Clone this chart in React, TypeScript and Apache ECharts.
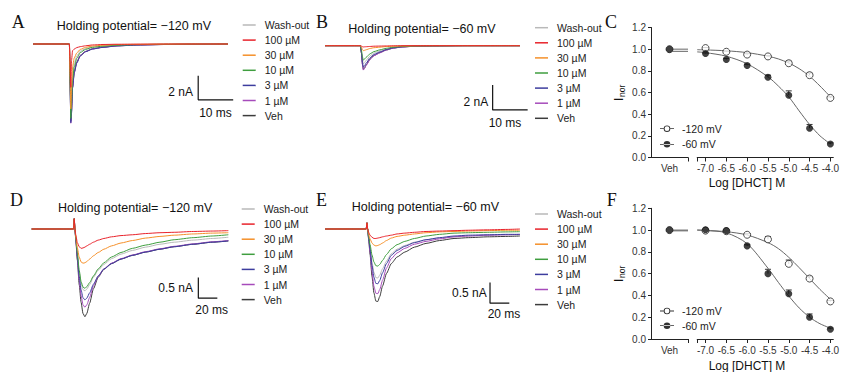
import React, { useEffect, useRef } from "react";
import * as echarts from "echarts";

// ---------------- DATA ----------------
const conditions = ["Wash-out", "100 µM", "30 µM", "10 µM", "3 µM", "1 µM", "Veh"];

// Panel A (-120 mV, fast sweep), time in ms, current in nA
const timeA = [0, 10.4, 10.6, 10.8, 11.0, 11.3, 11.8, 12.5, 13.5, 15, 17, 20, 24, 30, 38, 46, 55.7];
const washA = [0, 0, -3.0, -6.0, -4.6, -2.6, -1.6, -1.0, -0.6, -0.38, -0.24, -0.15, -0.08, -0.04, -0.02, -0.01, 0];
const vehA = [0, 0, -3.3, -6.4, -5.6, -3.6, -2.3, -1.5, -0.95, -0.62, -0.4, -0.26, -0.15, -0.08, -0.04, -0.02, 0];
const oneA = [0, 0, -3.4, -6.6, -5.7, -3.6, -2.35, -1.55, -0.98, -0.63, -0.41, -0.27, -0.15, -0.08, -0.04, -0.02, 0];
const threeA = [0, 0, -3.4, -6.55, -5.8, -3.7, -2.4, -1.6, -1.0, -0.65, -0.42, -0.28, -0.16, -0.08, -0.04, -0.02, 0];
const tenA = [0, 0, -3.2, -6.2, -5.0, -3.0, -1.9, -1.2, -0.72, -0.45, -0.28, -0.18, -0.1, -0.05, -0.02, -0.01, 0];
const thirtyA = [0, 0, -2.8, -5.4, -3.8, -1.9, -1.15, -0.75, -0.45, -0.28, -0.17, -0.1, -0.05, -0.03, -0.01, 0, 0];
const hundredA = [0, 0, -1.5, -3.6, -1.4, -0.56, -0.42, -0.3, -0.22, -0.15, -0.08, -0.04, -0.02, -0.01, 0, 0, 0];

// Panel B (-60 mV, fast sweep)
const timeB = [0, 10.1, 10.4, 10.7, 10.95, 11.3, 11.8, 12.9, 14, 15.7, 17.5, 19.5, 22, 26, 32, 40, 48, 55.7];
const washB = [0, 0, -0.44, -1.13, -1.45, -1.35, -1.16, -0.81, -0.59, -0.42, -0.26, -0.15, -0.07, -0.03, -0.01, 0, 0, 0];
const vehB = [0, 0, -0.57, -1.48, -1.9, -1.77, -1.52, -1.06, -0.78, -0.55, -0.34, -0.19, -0.1, -0.04, -0.015, 0, 0, 0];
const oneB = [0, 0, -0.59, -1.52, -1.95, -1.81, -1.56, -1.09, -0.8, -0.57, -0.35, -0.2, -0.1, -0.04, -0.016, 0, 0, 0];
const threeB = [0, 0, -0.52, -1.34, -1.72, -1.6, -1.38, -0.96, -0.7, -0.5, -0.31, -0.17, -0.09, -0.035, -0.014, 0, 0, 0];
const tenB = [0, 0, -0.35, -0.9, -1.15, -1.07, -0.92, -0.64, -0.47, -0.33, -0.21, -0.12, -0.06, -0.02, -0.01, 0, 0, 0];
const thirtyB = [0, 0, -0.12, -0.31, -0.4, -0.37, -0.32, -0.22, -0.16, -0.12, -0.07, -0.04, -0.02, -0.01, 0, 0, 0, 0];
const hundredB = [0, 0, -0.03, -0.08, -0.1, -0.09, -0.08, -0.06, -0.04, -0.03, -0.02, -0.01, 0, 0, 0, 0, 0, 0];

// Panel D (-120 mV, slow sweep)
const timeD = [0, 44, 44.8, 45.5, 46.5, 48, 50, 52, 54, 56, 58, 61, 65, 70, 76, 84, 94, 106, 120, 135, 150, 170, 190, 207];
const washD = [0, 0, 0.25, 0, -0.25, -0.6, -1.04, -1.33, -1.47, -1.5, -1.46, -1.35, -1.17, -1.0, -0.86, -0.72, -0.61, -0.52, -0.44, -0.37, -0.32, -0.27, -0.23, -0.2];
const vehD = [0, 0, 0.25, 0, -0.3, -0.75, -1.35, -1.78, -2.05, -2.13, -2.05, -1.8, -1.45, -1.17, -0.98, -0.84, -0.73, -0.64, -0.56, -0.49, -0.43, -0.37, -0.32, -0.29];
const oneD = [0, 0, 0.25, 0, -0.28, -0.7, -1.25, -1.62, -1.84, -1.9, -1.84, -1.66, -1.38, -1.15, -0.97, -0.83, -0.72, -0.63, -0.55, -0.48, -0.42, -0.36, -0.31, -0.28];
const threeD = [0, 0, 0.25, 0, -0.26, -0.65, -1.15, -1.48, -1.67, -1.72, -1.68, -1.55, -1.34, -1.14, -0.97, -0.84, -0.73, -0.64, -0.56, -0.49, -0.43, -0.37, -0.32, -0.29];
const tenD = [0, 0, 0.25, 0, -0.24, -0.58, -1.0, -1.28, -1.41, -1.44, -1.4, -1.3, -1.14, -0.97, -0.82, -0.68, -0.57, -0.47, -0.39, -0.32, -0.26, -0.21, -0.17, -0.14];
const thirtyD = [0, 0, 0.25, 0, -0.2, -0.45, -0.68, -0.8, -0.83, -0.82, -0.79, -0.73, -0.65, -0.57, -0.49, -0.41, -0.34, -0.28, -0.22, -0.18, -0.15, -0.12, -0.1, -0.09];
const hundredD = [0, 0, 0.25, 0, -0.15, -0.33, -0.43, -0.47, -0.46, -0.44, -0.41, -0.37, -0.32, -0.27, -0.23, -0.19, -0.16, -0.14, -0.11, -0.09, -0.08, -0.06, -0.05, -0.04];

// Panel E (-60 mV, slow sweep)
const timeE = [0, 42.7, 43.5, 44.2, 45.2, 46.7, 48.7, 50.7, 52.7, 54.7, 56.7, 59.7, 63.7, 68.7, 74.7, 82.7, 92.7, 104.7, 118.7, 133.7, 148.7, 168.7, 188.7, 202];
const washE = [0, 0, 0.15, 0, -0.2, -0.44, -0.8, -1.05, -1.18, -1.19, -1.12, -0.96, -0.78, -0.6, -0.49, -0.4, -0.32, -0.26, -0.22, -0.19, -0.17, -0.15, -0.14, -0.14];
const vehE = [0, 0, 0.15, 0, -0.25, -0.62, -1.15, -1.55, -1.75, -1.76, -1.64, -1.38, -1.08, -0.84, -0.68, -0.56, -0.44, -0.35, -0.28, -0.23, -0.21, -0.19, -0.18, -0.17];
const oneE = [0, 0, 0.15, 0, -0.23, -0.56, -1.03, -1.39, -1.56, -1.57, -1.47, -1.24, -0.95, -0.72, -0.58, -0.47, -0.37, -0.3, -0.24, -0.19, -0.17, -0.15, -0.14, -0.13];
const threeE = [0, 0, 0.15, 0, -0.21, -0.48, -0.88, -1.17, -1.32, -1.33, -1.25, -1.06, -0.84, -0.64, -0.52, -0.42, -0.33, -0.26, -0.21, -0.17, -0.15, -0.14, -0.13, -0.13];
const tenE = [0, 0, 0.15, 0, -0.18, -0.38, -0.63, -0.8, -0.89, -0.9, -0.86, -0.76, -0.62, -0.48, -0.38, -0.3, -0.23, -0.17, -0.13, -0.1, -0.09, -0.08, -0.07, -0.065];
const thirtyE = [0, 0, 0.15, 0, -0.12, -0.24, -0.34, -0.39, -0.41, -0.4, -0.38, -0.34, -0.28, -0.22, -0.18, -0.15, -0.12, -0.09, -0.07, -0.06, -0.05, -0.04, -0.03, -0.03];
const hundredE = [0, 0, 0.15, 0, -0.08, -0.15, -0.2, -0.23, -0.23, -0.22, -0.21, -0.19, -0.17, -0.15, -0.12, -0.1, -0.08, -0.06, -0.05, -0.04, -0.03, -0.02, -0.01, 0];

// Concentration-response (C: fast, F: slow)
const logConc = [-7.0, -6.5, -6.0, -5.5, -5.0, -4.5, -4.0];
const xTickLabels = [-7.0, -6.5, -6.0, -5.5, -5.0, -4.5, -4.0];
const yTickLabels = [0, 0.2, 0.4, 0.6, 0.8, 1.0, 1.2];
const vehValue = 1.0;
const c120 = [1.01, 0.976, 0.95, 0.933, 0.87, 0.76, 0.55];
const c120Sem = [0.005, 0.005, 0.008, 0.008, 0.02, 0.02, 0.01];
const c60 = [0.96, 0.905, 0.85, 0.74, 0.575, 0.27, 0.125];
const c60Sem = [0.005, 0.01, 0.01, 0.02, 0.04, 0.035, 0.01];
const f120 = [0.995, 0.99, 0.957, 0.915, 0.69, 0.555, 0.345];
const f120Sem = [0.005, 0.005, 0.01, 0.025, 0.035, 0.02, 0.01];
const f60 = [1.003, 0.995, 0.855, 0.6, 0.415, 0.2, 0.09];
const f60Sem = [0.005, 0.005, 0.01, 0.04, 0.035, 0.03, 0.01];

// fitted curves
const fitX = [-7.2, -7.0, -6.5, -6.0, -5.5, -5.25, -5.0, -4.75, -4.5, -4.25, -4.0];
const fitC120 = [0.995, 0.993, 0.985, 0.968, 0.935, 0.91, 0.872, 0.82, 0.75, 0.66, 0.56];
const fitC60 = [0.975, 0.968, 0.935, 0.865, 0.745, 0.66, 0.56, 0.43, 0.305, 0.2, 0.125];
const fitF120 = [1.0, 0.997, 0.985, 0.955, 0.885, 0.83, 0.75, 0.655, 0.555, 0.455, 0.365];
const fitF60 = [1.0, 0.997, 0.975, 0.875, 0.65, 0.52, 0.395, 0.285, 0.2, 0.14, 0.1];
const plateauC = [1.0, 0.98];
const plateauF = [1.0, 0.993];

// ---------------- STYLE / LAYOUT ----------------
const FONT = '"Liberation Sans", Arial, Helvetica, sans-serif';
const SERIF = '"Liberation Serif", "Times New Roman", serif';
const colors: Record<string, string> = {
  "Wash-out": "#b9b9b9",
  "100 µM": "#e8232b",
  "30 µM": "#f5902a",
  "10 µM": "#3f9e3f",
  "3 µM": "#3d3d9e",
  "1 µM": "#a64bbb",
  Veh: "#3c3c3c",
};
const drawOrder = ["Wash-out", "Veh", "1 µM", "3 µM", "10 µM", "30 µM", "100 µM"];

// legend icons: line with open / filled marker
const ICON_OPEN =
  "path://M0,3.6H3.7V4.4H0Z M10.3,3.6H14V4.4H10.3Z M10.3,4A3.3,3.3 0 1 0 3.7,4A3.3,3.3 0 1 0 10.3,4Z M9.4,4A2.4,2.4 0 1 1 4.6,4A2.4,2.4 0 1 1 9.4,4Z";
const ICON_FILLED =
  "path://M0,3.6H14V4.4H0Z M10.3,4A3.3,3.3 0 1 0 3.7,4A3.3,3.3 0 1 0 10.3,4Z";

const tracePanels = [
  {
    time: timeA,
    vals: { "Wash-out": washA, "100 µM": hundredA, "30 µM": thirtyA, "10 µM": tenA, "3 µM": threeA, "1 µM": oneA, Veh: vehA },
    grid: { left: 33, top: 32, width: 203, height: 96 },
    x: [0, 58], y: [-7, 1],
    bar: { t: 47.2, i: -4.65, dT: 10, dI: 2 },
    legend: { left: 242.7, top: 18.5 },
  },
  {
    time: timeB,
    vals: { "Wash-out": washB, "100 µM": hundredB, "30 µM": thirtyB, "10 µM": tenB, "3 µM": threeB, "1 µM": oneB, Veh: vehB },
    grid: { left: 325, top: 33.2, width: 203, height: 100 },
    x: [0, 58], y: [-7, 1],
    bar: { t: 47.9, i: -5.14, dT: 10, dI: 2 },
    legend: { left: 535, top: 21.2 },
  },
  {
    time: timeD,
    vals: { "Wash-out": washD, "100 µM": hundredD, "30 µM": thirtyD, "10 µM": tenD, "3 µM": threeD, "1 µM": oneD, Veh: vehD },
    grid: { left: 31.7, top: 208.4, width: 199.5, height: 123.6 },
    x: [0, 210], y: [-2.5, 0.5],
    bar: { t: 175.4, i: -1.68, dT: 20, dI: 0.5 },
    legend: { left: 241.7, top: 202.5 },
  },
  {
    time: timeE,
    vals: { "Wash-out": washE, "100 µM": hundredE, "30 µM": thirtyE, "10 µM": tenE, "3 µM": threeE, "1 µM": oneE, Veh: vehE },
    grid: { left: 325, top: 208.4, width: 202.65, height: 123.6 },
    x: [0, 210], y: [-2.5, 0.5],
    bar: { t: 171, i: -1.8, dT: 20, dI: 0.5 },
    legend: { left: 535, top: 207.5 },
  },
];

const drPanels = [
  { top: 27.5, height: 130, m120: c120, s120: c120Sem, m60: c60, s60: c60Sem, fit120: fitC120, fit60: fitC60, plateau: plateauC, legendTop: 122.2, legendGap: 2.6 },
  { top: 208.3, height: 130.7, m120: f120, s120: f120Sem, m60: f60, s60: f60Sem, fit120: fitF120, fit60: fitF60, plateau: plateauF, legendTop: 304.5, legendGap: 1.7 },
];

const AX = "#222";

function buildOption() {
  const grid: any[] = [];
  const xAxis: any[] = [];
  const yAxis: any[] = [];
  const series: any[] = [];
  const legend: any[] = [];

  tracePanels.forEach((p, gi) => {
    grid.push({ ...p.grid });
    xAxis.push({ gridIndex: gi, type: "value", min: p.x[0], max: p.x[1], show: false });
    yAxis.push({ gridIndex: gi, type: "value", min: p.y[0], max: p.y[1], show: false });
    drawOrder.forEach((name) => {
      const v = (p.vals as any)[name] as number[];
      series.push({
        type: "line",
        name,
        xAxisIndex: gi,
        yAxisIndex: gi,
        data: p.time.map((t, k) => [t, v[k]]),
        showSymbol: false,
        symbol: "none",
        smooth: 0.2,
        smoothMonotone: "x",
        color: colors[name],
        lineStyle: { color: colors[name], width: 1 },
        silent: true,
      });
    });
    const b = p.bar;
    series.push({
      type: "line",
      xAxisIndex: gi,
      yAxisIndex: gi,
      data: [[b.t, b.i + b.dI], [b.t, b.i], [b.t + b.dT, b.i]],
      showSymbol: false,
      symbol: "none",
      lineStyle: { color: "#111", width: 1.2 },
      z: 10,
      silent: true,
    });
    legend.push({
      orient: "vertical",
      left: p.legend.left,
      top: p.legend.top,
      itemWidth: 13,
      itemHeight: 1.5,
      itemGap: 2.1,
      icon: "rect",
      selectedMode: false,
      padding: 0,
      textStyle: { fontSize: 10.5, fontFamily: FONT, color: "#222", lineHeight: 13, padding: [0, 0, 0, 4] },
      data: conditions,
    });
  });

  drPanels.forEach((p, k) => {
    const gVeh = 4 + k * 2;
    const gR = gVeh + 1;
    grid.push({ left: 651, top: p.top, width: 37, height: p.height });
    grid.push({ left: 697.2, top: p.top, width: 138.65, height: p.height });
    const lab = { fontSize: 10, fontFamily: FONT, color: "#333" };
    xAxis.push({
      gridIndex: gVeh, type: "value", min: 0, max: 1,
      axisLine: { show: true, lineStyle: { color: AX, width: 1 } },
      axisTick: { show: true, customValues: [1], length: 4, lineStyle: { color: AX } },
      axisLabel: { ...lab, customValues: [0.5], formatter: () => "Veh", margin: 6 },
      splitLine: { show: false },
    });
    yAxis.push({
      gridIndex: gVeh, type: "value", min: 0, max: 1.2, interval: 0.2,
      axisLine: { show: true, lineStyle: { color: AX, width: 1 } },
      axisTick: { show: true, length: 3, lineStyle: { color: AX } },
      axisLabel: { ...lab, margin: 5, customValues: yTickLabels, formatter: (v: number) => v.toFixed(1) },
      splitLine: { show: false },
    });
    xAxis.push({
      gridIndex: gR, type: "value", min: -7.2, max: -3.93,
      axisLine: { show: true, onZero: false, lineStyle: { color: AX, width: 1 } },
      axisTick: { show: true, customValues: [-7.2, ...xTickLabels], length: 4, lineStyle: { color: AX } },
      axisLabel: { ...lab, customValues: xTickLabels, formatter: (v: number) => v.toFixed(1), margin: 6 },
      splitLine: { show: false },
    });
    yAxis.push({ gridIndex: gR, type: "value", min: 0, max: 1.2, show: false });

    // plateau lines in Veh segment
    p.plateau.forEach((pv) => {
      series.push({
        type: "line", xAxisIndex: gVeh, yAxisIndex: gVeh,
        data: [[0.56, pv], [1, pv]], showSymbol: false, symbol: "none",
        lineStyle: { color: "#666", width: 1 }, silent: true, z: 3,
      });
    });
    // Veh points
    series.push({
      type: "scatter", xAxisIndex: gVeh, yAxisIndex: gVeh, data: [[0.5, vehValue]],
      symbol: "circle", symbolSize: 7, itemStyle: { color: "#fff", borderColor: "#222", borderWidth: 1 }, z: 4, silent: true,
    });
    series.push({
      type: "scatter", xAxisIndex: gVeh, yAxisIndex: gVeh, data: [[0.5, vehValue]],
      symbol: "circle", symbolSize: 7, itemStyle: { color: "#111" }, z: 5, silent: true,
    });

    // fits
    series.push({
      type: "line", name: "-120 mV", xAxisIndex: gR, yAxisIndex: gR,
      data: fitX.map((x, i) => [x, p.fit120[i]]), smooth: 0.3, showSymbol: false, symbol: "emptyCircle",
      color: "#666", lineStyle: { color: "#666", width: 1 }, z: 3, silent: true,
    });
    series.push({
      type: "line", name: "-60 mV", xAxisIndex: gR, yAxisIndex: gR,
      data: fitX.map((x, i) => [x, p.fit60[i]]), smooth: 0.3, showSymbol: false, symbol: "circle",
      color: "#666", lineStyle: { color: "#666", width: 1 }, z: 3, silent: true,
    });

    // error bars
    const errRender = (params: any, api: any) => {
      const x = api.value(0), y = api.value(1), e = api.value(2);
      const p0 = api.coord([x, y]);
      const p1 = api.coord([x, y + e]);
      return {
        type: "group",
        children: [
          { type: "line", shape: { x1: p0[0], y1: p0[1], x2: p1[0], y2: p1[1] }, style: { stroke: "#333", lineWidth: 1 } },
          { type: "line", shape: { x1: p1[0] - 3, y1: p1[1], x2: p1[0] + 3, y2: p1[1] }, style: { stroke: "#333", lineWidth: 1 } },
        ],
      };
    };
    series.push({
      type: "custom", xAxisIndex: gR, yAxisIndex: gR, renderItem: errRender, z: 2, silent: true,
      data: logConc.map((x, i) => [x, p.m120[i], p.s120[i]]),
    });
    series.push({
      type: "custom", xAxisIndex: gR, yAxisIndex: gR, renderItem: errRender, z: 2, silent: true,
      data: logConc.map((x, i) => [x, p.m60[i], p.s60[i]]),
    });

    // points
    series.push({
      type: "scatter", xAxisIndex: gR, yAxisIndex: gR, data: logConc.map((x, i) => [x, p.m120[i]]),
      symbol: "circle", symbolSize: 7, itemStyle: { color: "#fff", borderColor: "#222", borderWidth: 1 }, z: 4, silent: true,
    });
    series.push({
      type: "scatter", xAxisIndex: gR, yAxisIndex: gR, data: logConc.map((x, i) => [x, p.m60[i]]),
      symbol: "circle", symbolSize: 7, itemStyle: { color: "#111" }, z: 5, silent: true,
    });

    legend.push({
      orient: "vertical", left: 660, top: p.legendTop, itemWidth: 14, itemHeight: 8, itemGap: p.legendGap,
      selectedMode: false, padding: 0,
      textStyle: { fontSize: 10.5, fontFamily: FONT, color: "#222", lineHeight: 13, padding: [0, 0, 0, 3] },
      itemStyle: { color: "#333", borderWidth: 0 },
      data: [
        { name: "-120 mV", icon: ICON_OPEN },
        { name: "-60 mV", icon: ICON_FILLED },
      ],
    });
  });

  const txt = (x: number, y: number, text: string, size: number, align = "left", family = FONT) => ({
    type: "text", x, y, silent: true,
    style: { text, fontSize: size, fontFamily: family, fill: "#111", align, verticalAlign: "middle" },
  });

  const inor = (x: number, y: number) => ({
    type: "group", x, y, rotation: Math.PI / 2, silent: true,
    children: [
      { type: "text", x: 0, y: 0, style: { text: "I", fontSize: 12, fontFamily: FONT, fill: "#111", align: "left", verticalAlign: "middle" } },
      { type: "text", x: 4, y: 3, style: { text: "nor", fontSize: 8.5, fontFamily: FONT, fill: "#111", align: "left", verticalAlign: "middle" } },
    ],
  });

  const graphic = [
    txt(11.7, 22, "A", 18, "left", SERIF),
    txt(316, 22, "B", 18, "left", SERIF),
    txt(605, 22, "C", 18, "left", SERIF),
    txt(10, 200, "D", 18, "left", SERIF),
    txt(316, 200, "E", 18, "left", SERIF),
    txt(606.7, 200, "F", 18, "left", SERIF),
    txt(56.7, 26, "Holding potential= \u2212120 mV", 12.5),
    txt(348.3, 29.3, "Holding potential= \u221260 mV", 12.5),
    txt(58, 207.7, "Holding potential= \u2212120 mV", 12.5),
    txt(351.7, 206.7, "Holding potential= \u221260 mV", 12.5),
    txt(193, 91.7, "2 nA", 12, "right"),
    txt(215.5, 113, "10 ms", 12, "center"),
    txt(488.3, 101.7, "2 nA", 12, "right"),
    txt(505, 122.7, "10 ms", 12, "center"),
    txt(193, 288.3, "0.5 nA", 12, "right"),
    txt(211.7, 310, "20 ms", 12, "center"),
    txt(486.7, 293.3, "0.5 nA", 12, "right"),
    txt(504, 314.3, "20 ms", 12, "center"),
    txt(747, 183, "Log [DHCT] M", 12, "center"),
    txt(747, 365.5, "Log [DHCT] M", 12, "center"),
    inor(619, 101),
    inor(619, 282),
  ];

  return {
    animation: false,
    backgroundColor: "#fff",
    textStyle: { fontFamily: FONT },
    grid,
    xAxis,
    yAxis,
    legend,
    series,
    graphic,
  };
}

export default function App() {
  const ref = useRef<HTMLDivElement>(null);
  useEffect(() => {
    document.body.style.margin = "0";
    const chart = echarts.init(ref.current!, null, { renderer: "svg" });
    chart.setOption(buildOption() as any);
    return () => chart.dispose();
  }, []);
  return (
    <div
      ref={ref}
      style={{ position: "fixed", left: 0, top: 0, width: 842, height: 372, background: "#fff", overflow: "hidden" }}
    />
  );
}
